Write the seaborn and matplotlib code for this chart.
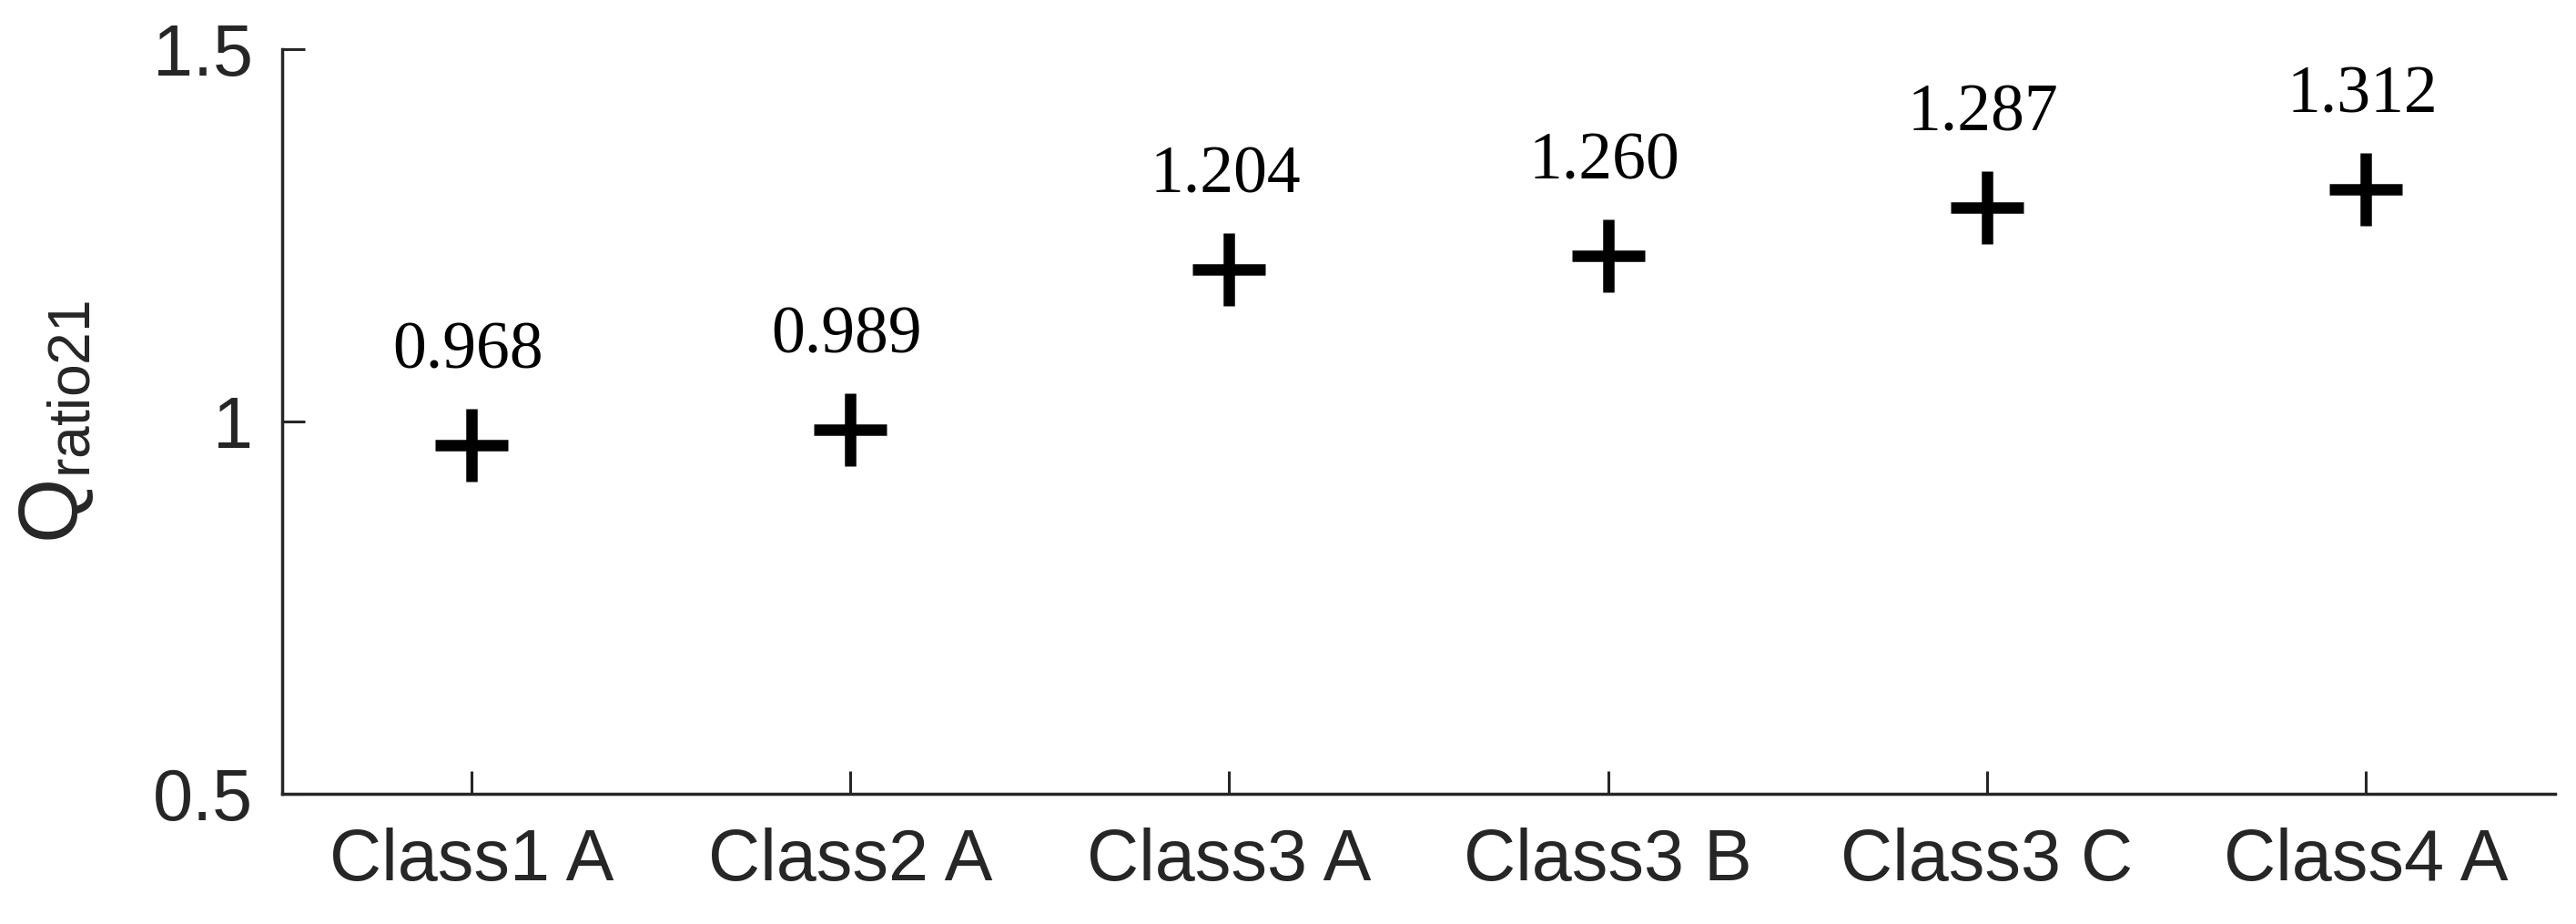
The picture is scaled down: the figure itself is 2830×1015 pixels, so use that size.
import pandas as pd
from matplotlib import pyplot as plt
import seaborn as sns

categories = ['Class1 A', 'Class2 A', 'Class3 A', 'Class3 B', 'Class3 C', 'Class4 A']
q_ratio = [0.968, 0.989, 1.204, 1.222, 1.287, 1.312]        # marker heights
value_labels = ['0.968', '0.989', '1.204', '1.260', '1.287', '1.312']
yticks = [0.5, 1.0, 1.5]
ytick_labels = ['0.5', '1', '1.5']

df = pd.DataFrame({'cls': categories, 'q': q_ratio})

sns.set_style('white')
plt.rcParams['font.family'] = ['Liberation Sans', 'DejaVu Sans']
plt.rcParams['mathtext.fontset'] = 'custom'
plt.rcParams['mathtext.rm'] = 'Liberation Sans'
plt.rcParams['mathtext.it'] = 'Liberation Sans'

axis_grey = '#262626'

fig = plt.figure(figsize=(28.3, 10.15), dpi=100)
ax = fig.add_axes([0.1095, 0.1409, 0.8825, 0.8059])

sns.scatterplot(data=df, x='cls', y='q', marker='+', s=3300, linewidth=9,
                color='black', ax=ax, legend=False)

# value labels above each marker (serif, like the original)
for i, (v, lab) in enumerate(zip(q_ratio, value_labels)):
    ax.text(i - 0.01, v + 0.125, lab, ha='center', va='center', fontsize=53,
            family=['Liberation Serif', 'DejaVu Serif'], color='black')

ax.set_xlim(-0.5, 5.5)
ax.set_ylim(0.5, 1.5)
ax.set_yticks(yticks)
ax.set_yticklabels(ytick_labels)
ax.set_xlabel('')
ax.set_ylabel(r'Q$_{\mathrm{ratio21}}$', fontsize=66, color=axis_grey)
ax.yaxis.set_label_coords(-0.082, 0.5)

sns.despine(ax=ax)
for side in ['left', 'bottom']:
    ax.spines[side].set_linewidth(2.5)
    ax.spines[side].set_color(axis_grey)
ax.tick_params(axis='both', direction='in', length=18, width=2.2,
               colors=axis_grey, labelsize=57, bottom=True, left=True)
ax.tick_params(axis='x', pad=27)
ax.tick_params(axis='y', pad=23)

fig.savefig('out.png', dpi=100, facecolor='white')
